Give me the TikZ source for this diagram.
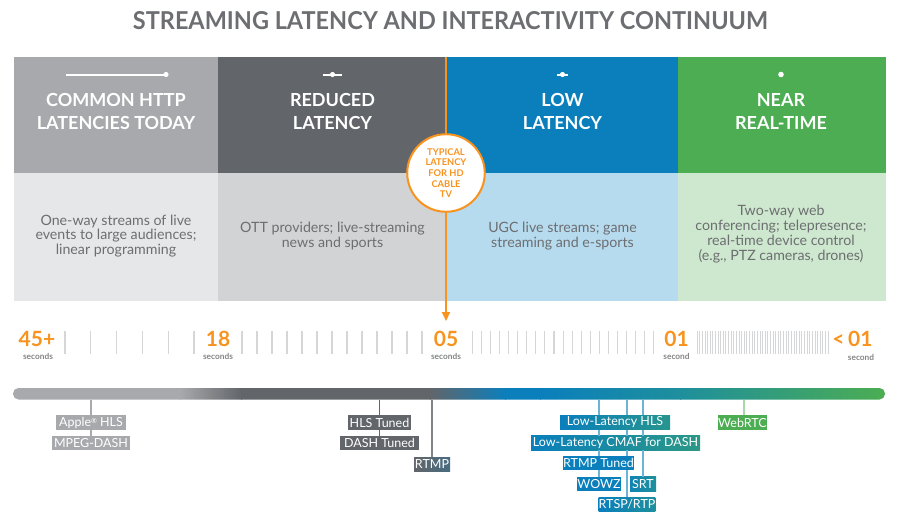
\documentclass[tikz,border=0pt]{standalone}
\usepackage{fontspec}
\setmainfont{Lato}
\usetikzlibrary{arrows.meta}
\definecolor{cgray}{HTML}{A7A9AC}
\definecolor{cdark}{HTML}{626569}
\definecolor{cblue}{HTML}{0A7FBC}
\definecolor{cteal}{HTML}{1E8F9C}
\definecolor{cgreen}{HTML}{4CAD52}
\definecolor{bgray}{HTML}{E6E7E8}
\definecolor{bdark}{HTML}{D1D3D4}
\definecolor{bblue}{HTML}{B6DBEE}
\definecolor{bgreen}{HTML}{CDE8CE}
\definecolor{ctext}{HTML}{6D6E71}
\definecolor{corange}{HTML}{F7931E}
\definecolor{ctick}{HTML}{D5D6D8}
\definecolor{lblue}{HTML}{6DB3D8}
\definecolor{lgreen}{HTML}{A8D8AA}
\tikzset{
  headtxt/.style={text=white, align=center, font=\bfseries\fontsize{18}{23}\selectfont},
  bodytxt/.style={text=ctext, align=center, font=\fontsize{14.2}{14.8}\selectfont},
  numtxt/.style={text=corange, font=\bfseries\fontsize{21}{21}\selectfont, inner sep=0},
  sectxt/.style={text=ctext!85, font=\bfseries\fontsize{8.3}{9}\selectfont, inner sep=0},
  lbl/.style={text=white, font=\fontsize{12.5}{13}\selectfont, inner xsep=0pt, inner ysep=0pt, minimum height=14.5pt},
  icon/.style={white, line width=2pt},
  tick/.style={ctick, line width=1.1pt},
  conn/.style={line width=1.2pt},
}
\begin{document}
\begin{tikzpicture}[x=1pt,y=-1pt]
\useasboundingbox (0,0) rectangle (900,525);
% title
\node[text=ctext, inner sep=0, font=\bfseries] (title) at (450.5,20.5) {\resizebox{635pt}{18pt}{STREAMING LATENCY AND INTERACTIVITY CONTINUUM}};
% columns
\fill[cgray] (14,57) rectangle (218,172.5);
\fill[cdark] (218,57) rectangle (447,172.5);
\fill[cblue] (447,57) rectangle (678,172.5);
\fill[cgreen] (678,57) rectangle (886,172.5);
\fill[bgray] (14,172.5) rectangle (218,300.5);
\fill[bdark] (218,172.5) rectangle (447,300.5);
\fill[bblue] (447,172.5) rectangle (678,300.5);
\fill[bgreen] (678,172.5) rectangle (886,300.5);
% icons
\draw[icon] (66,74.5) -- (165,74.5); \fill[white] (166,74.5) circle (2.6);
\draw[icon] (323,74.5) -- (342,74.5); \fill[white] (332.5,74.5) circle (2.6);
\draw[icon] (557,74.5) -- (568,74.5); \fill[white] (562.5,74.5) circle (2.6);
\fill[white] (781,74.5) circle (2.8);
% headers
\node[headtxt] (h1) at (116,111) {COMMON HTTP\\LATENCIES TODAY};
\node[headtxt] (h2) at (332.5,111) {REDUCED\\LATENCY};
\node[headtxt] (h3) at (562.5,111) {LOW\\LATENCY};
\node[headtxt] (h4) at (781,111) {NEAR\\REAL-TIME};
% bodies
\node[bodytxt] (b1) at (116,236) {One-way streams of live\\events to large audiences;\\linear programming};
\node[bodytxt] (b2) at (332.5,236) {OTT providers; live-streaming\\news and sports};
\node[bodytxt] (b3) at (562.5,236) {UGC live streams; game\\streaming and e-sports};
\node[bodytxt] (b4) at (781,234) {Two-way web\\conferencing; telepresence;\\real-time device control\\(e.g., PTZ cameras, drones)};
% orange marker
\coordinate (otop) at (446,57);
\coordinate (obot) at (446,321);
\draw[corange, line width=2pt, -{Triangle[length=9pt,width=8pt]}] (otop) -- (obot);
\node[circle, draw=corange, line width=2pt, fill=white, minimum size=71pt, inner sep=0, text=corange, align=center, font=\bfseries\fontsize{9.3}{10.7}\selectfont] (tv) at (446,173) {\raisebox{-3pt}{\parbox{60pt}{\centering TYPICAL\\LATENCY\\FOR HD\\CABLE\\TV}}};
% scale ticks
\foreach \i in {0,...,5} \draw[tick] ({65+25.8*\i},331) -- ++(0,23);
\foreach \i in {0,...,12} \draw[tick] ({242+15*\i},331) -- ++(0,23);
\foreach \i in {0,...,20} \draw[tick] ({472.3+9.08*\i},331) -- ++(0,23);
\foreach \i in {0,...,50} \draw[ctick, line width=0.7pt] ({697+2.62*\i},331) -- ++(0,23);
% scale numbers
\node[numtxt] (n1) at (37,339) {45+};
\node[sectxt] (s1) at (38,356.5) {seconds};
\node[numtxt] (n2) at (218,339) {18};
\node[sectxt] (s2) at (218,356.5) {seconds};
\node[numtxt] (n3) at (446,339) {05};
\node[sectxt] (s3) at (446,356.5) {seconds};
\node[numtxt] (n4) at (676.5,339) {01};
\node[sectxt] (s4) at (676.5,356.5) {second};
\node[numtxt] (n5) at (852.5,339) {<\,01};
\node[sectxt] (s5) at (861,357) {second};
% gradient bar
\begin{scope}
\clip[rounded corners=5.5pt] (13,388) rectangle (885,399.5);
\fill[cgray] (12,388) rectangle (181,400);
\shade[left color=cgray, right color=cdark] (180,388) rectangle (242,400);
\fill[cdark] (241,388) rectangle (431,400);
\shade[left color=cdark, right color=cblue] (430,388) rectangle (506,400);
\fill[cblue] (505,388) rectangle (541,400);
\shade[left color=cblue, right color=cteal] (540,388) rectangle (681,400);
\shade[left color=cteal, right color=cgreen] (680,388) rectangle (886,400);
\end{scope}
\coordinate (t1) at (91,399.5);
\coordinate (t2) at (379.5,399.5);
\coordinate (t3) at (432,399.5);
\coordinate (t4) at (599,399.5);
\coordinate (t5) at (627,399.5);
\coordinate (t6) at (643,399.5);
\coordinate (t7) at (744,399.5);
% connectors (drawn first, labels on top)
\draw[conn, cgray] (t1) -- (91,443);
\draw[conn, cdark] (t2) -- (379.5,443);
\draw[conn, cdark!80] (t3) -- (432,464.5);
\draw[conn, lblue] (t4) -- (599,484);
\draw[conn, lblue] (t5) -- (627,504.5);
\draw[conn, lblue] (t6) -- (643,484);
\draw[conn, lgreen] (t7) -- (744,422.5);
% labels
\node[lbl, fill=cgray, minimum width=70pt] (apple) at (91,422.5) {Apple{\fontsize{7}{6}\selectfont\raisebox{3pt}{®}} HLS};
\node[lbl, fill=cgray, minimum width=78pt] (mpeg) at (91,443) {MPEG-DASH};
\node[lbl, fill=cdark, minimum width=63pt] (hlst) at (379.5,422.5) {HLS Tuned};
\node[lbl, fill=cdark, minimum width=79pt] (dasht) at (379.5,443) {DASH Tuned};
\node[lbl, left color=cdark, right color=cdark!70!cblue, minimum width=36pt] (rtmp) at (432,464.5) {RTMP};
\node[lbl, left color=cblue, right color=cteal!80!cgreen, minimum width=110pt] (llhls) at (615,422.5) {Low-Latency HLS};
\node[lbl, left color=cblue, right color=cteal!70!cgreen, minimum width=169pt] (cmaf) at (615.5,443) {Low-Latency CMAF for DASH};
\node[lbl, fill=cblue, minimum width=71pt] (rtmpt) at (598.5,463) {RTMP Tuned};
\node[lbl, fill=cblue, minimum width=44pt] (wowz) at (599,484) {WOWZ};
\node[lbl, left color=cblue!70!cteal, right color=cteal, minimum width=26pt] (srt) at (643,484) {SRT};
\node[lbl, left color=cblue, right color=cteal, minimum width=56pt] (rtsp) at (627,504.5) {RTSP/RTP};
\node[lbl, fill=cgreen, minimum width=49pt] (webrtc) at (742.5,422.5) {WebRTC};
% short visible links between stacked labels
\draw[conn, cgray] (apple.south -| t1) -- (mpeg.north -| t1);
\draw[conn, cdark] (hlst.south -| t2) -- (dasht.north -| t2);
\draw[conn, lblue] (llhls.south -| t4) -- (cmaf.north -| t4);
\draw[conn, lblue] (cmaf.south -| t4) -- (rtmpt.north -| t4);
\draw[conn, lblue] (rtmpt.south -| t4) -- (wowz.north -| t4);
\draw[conn, lblue] (llhls.south -| t5) -- (cmaf.north -| t5);
\draw[conn, lblue] (cmaf.south -| t5) -- (rtmpt.north -| t5);
\draw[conn, lblue] (rtmpt.south -| t5) -- (rtsp.north -| t5);
\draw[conn, lblue] (llhls.south -| t6) -- (cmaf.north -| t6);
\draw[conn, lblue] (cmaf.south -| t6) -- (srt.north -| t6);
\end{tikzpicture}
\end{document}
